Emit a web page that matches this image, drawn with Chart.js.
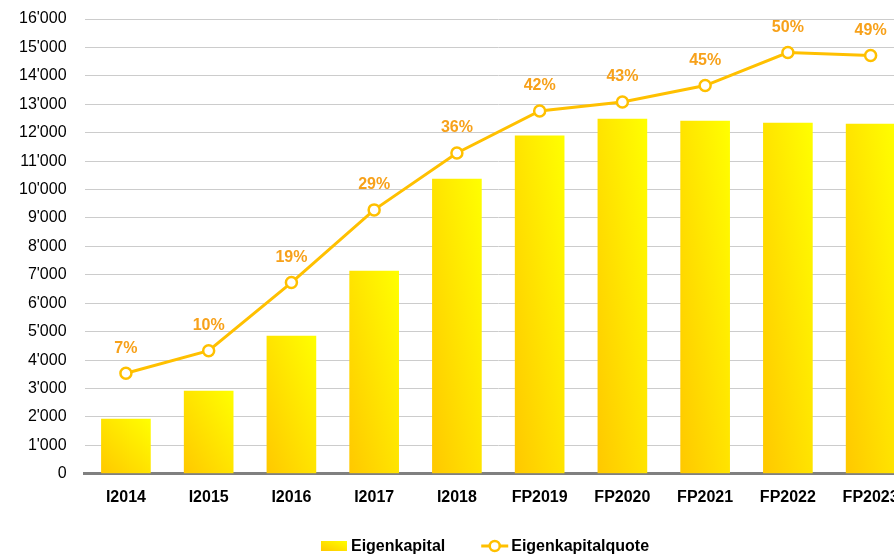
<!DOCTYPE html>
<html>
<head>
<meta charset="utf-8">
<script src="https://cdn.jsdelivr.net/npm/chart.js@4/dist/chart.umd.min.js"></script>
<style>
    html, body { margin: 0; padding: 0; background: #fff; overflow: hidden; }
    #wrap { width: 894px; height: 557px; overflow: hidden; }
</style>
</head>
<body>
<div id="wrap"><canvas id="chart" width="920" height="557"></canvas></div>
<script>
// chart data
const categories = ['I2014', 'I2015', 'I2016', 'I2017', 'I2018', 'FP2019', 'FP2020', 'FP2021', 'FP2022', 'FP2023'];
const eigenkapital = [1935, 2920, 4855, 7140, 10380, 11905, 12490, 12420, 12350, 12315];
const eigenkapitalquote = [7.0, 10.0, 19.1, 28.8, 36.4, 42.0, 43.2, 45.4, 49.8, 49.4];
const seriesNames = ['Eigenkapital', 'Eigenkapitalquote'];

const FONT = '"Liberation Sans", Arial, sans-serif';
const LINE_COLOR = '#FFC000';
const LABEL_COLOR = '#F7A11A';
const BAR_PCT = 0.6;

// diagonal gradient scaled to the bar box (like Office fills)
const makeBoxGradient = (ctx, left, top, w, h) => {
    const a = 0.5 / w, b = 0.5 / h, d = a * a + b * b;
    const g = ctx.createLinearGradient(left, top + h, left + a / d, top + h - b / d);
    g.addColorStop(0, '#FFC800');
    g.addColorStop(1, '#FFFF00');
    return g;
};

const barGradient = (c) => {
    const chart = c.chart;
    const xs = chart.scales.x, ys = chart.scales.y;
    if (!chart.chartArea || !xs || !ys) return '#FFE000';
    const w = (xs.width / categories.length) * BAR_PCT;
    const left = xs.getPixelForValue(c.dataIndex) - w / 2;
    const top = ys.getPixelForValue(c.raw);
    const h = Math.max(ys.getPixelForValue(0) - top, 1);
    return makeBoxGradient(chart.ctx, left, top, w, h);
};

const pointLabels = {
    id: 'pointLabels',
    afterDatasetsDraw(chart) {
        const meta = chart.getDatasetMeta(0);
        const ctx = chart.ctx;
        ctx.save();
        ctx.font = 'bold 16px ' + FONT;
        ctx.fillStyle = LABEL_COLOR;
        ctx.textAlign = 'center';
        ctx.textBaseline = 'middle';
        meta.data.forEach((pt, i) => {
            ctx.fillText(Math.round(eigenkapitalquote[i]) + '%', pt.x, pt.y - 25);
        });
        ctx.restore();
    }
};

const bottomLegend = {
    id: 'bottomLegend',
    afterDraw(chart) {
        const ctx = chart.ctx;
        const y = 546;
        const centerX = 485;
        ctx.save();
        ctx.font = 'bold 16px ' + FONT;
        const w1 = ctx.measureText(seriesNames[0]).width;
        const w2 = ctx.measureText(seriesNames[1]).width;
        const total = 26 + 4 + w1 + 36 + 27 + 3 + w2;
        let x = centerX - total / 2;

        ctx.fillStyle = makeBoxGradient(ctx, x, y - 5, 26, 10);
        ctx.fillRect(x, y - 5, 26, 10);
        x += 30;
        ctx.fillStyle = '#000';
        ctx.textBaseline = 'middle';
        ctx.textAlign = 'left';
        ctx.fillText(seriesNames[0], x, y + 1);
        x += w1 + 36;

        ctx.strokeStyle = LINE_COLOR;
        ctx.lineWidth = 3;
        ctx.beginPath();
        ctx.moveTo(x, y);
        ctx.lineTo(x + 27, y);
        ctx.stroke();
        ctx.beginPath();
        ctx.arc(x + 13.5, y, 5, 0, Math.PI * 2);
        ctx.fillStyle = '#fff';
        ctx.fill();
        ctx.lineWidth = 2.5;
        ctx.stroke();
        x += 30;
        ctx.fillStyle = '#000';
        ctx.fillText(seriesNames[1], x, y + 1);
        ctx.restore();
    }
};

new Chart(document.getElementById('chart'), {
    data: {
        labels: categories,
        datasets: [
            {
                type: 'line',
                label: seriesNames[1],
                data: eigenkapitalquote,
                yAxisID: 'y1',
                order: 0,
                borderColor: LINE_COLOR,
                borderWidth: 3,
                tension: 0,
                pointRadius: 5.5,
                pointBorderWidth: 2.5,
                pointBackgroundColor: '#fff',
                pointBorderColor: LINE_COLOR
            },
            {
                type: 'bar',
                label: seriesNames[0],
                data: eigenkapital,
                yAxisID: 'y',
                order: 1,
                backgroundColor: barGradient,
                borderWidth: 0,
                barPercentage: BAR_PCT,
                categoryPercentage: 1
            }
        ]
    },
    options: {
        responsive: false,
        animation: false,
        layout: { padding: { left: 1, right: 3, top: 19, bottom: 36 } },
        plugins: {
            legend: { display: false },
            tooltip: { enabled: false }
        },
        scales: {
            x: {
                grid: { display: false, drawTicks: false },
                border: { display: true, color: '#808080', width: 3 },
                ticks: {
                    color: '#000',
                    padding: 14,
                    font: { family: FONT, size: 16, weight: 'bold' },
                    maxRotation: 0
                }
            },
            y: {
                min: 0,
                max: 16000,
                grid: { color: '#cccccc', lineWidth: 1, drawTicks: false },
                border: { display: false },
                afterFit: (s) => { s.paddingTop = 0; },
                ticks: {
                    stepSize: 1000,
                    color: '#000',
                    padding: 18,
                    font: { family: FONT, size: 16 },
                    callback: (v) => String(v).replace(/\B(?=(\d{3})+(?!\d))/g, "'")
                }
            },
            y1: {
                display: false,
                min: -6.43,
                max: 54.28
            }
        }
    },
    plugins: [pointLabels, bottomLegend]
});
</script>
</body>
</html>
